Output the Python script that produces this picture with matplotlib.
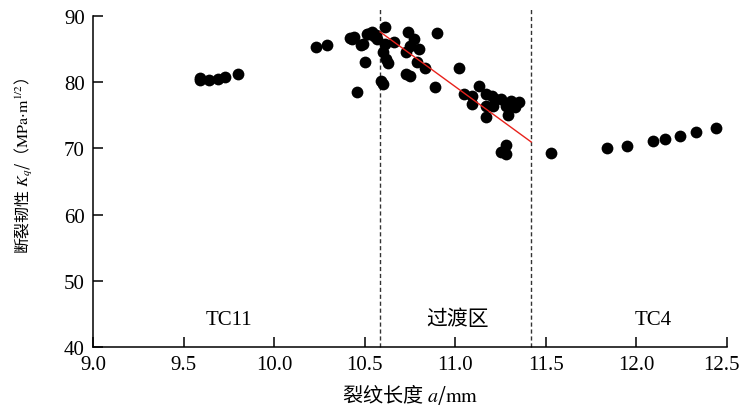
import matplotlib
matplotlib.use("Agg")
import matplotlib.pyplot as plt
from matplotlib.transforms import ScaledTranslation

plt.rcParams['font.family'] = ['Liberation Serif', 'Noto Sans CJK SC']
plt.rcParams['mathtext.fontset'] = 'stix'
plt.rcParams['axes.unicode_minus'] = False

# 裂纹长度 a/mm 与 断裂韧性 Kq
tc11_a = [9.59, 9.59, 9.64, 9.69, 9.73, 9.80]
tc11_k = [80.3, 80.7, 80.4, 80.5, 80.8, 81.3]

trans_a = [10.23, 10.29, 10.42, 10.43, 10.44, 10.48, 10.49, 10.50, 10.46,
           10.51, 10.52, 10.54, 10.55, 10.56, 10.57, 10.61, 10.59, 10.60,
           10.60, 10.62, 10.63, 10.66, 10.61, 10.74, 10.77, 10.75, 10.73,
           10.80, 10.79, 10.83, 10.73, 10.75, 10.90, 10.89, 11.02, 11.05,
           11.09, 11.13, 11.09, 11.17, 11.20, 11.22, 11.25, 11.17, 11.21,
           11.17, 11.28, 11.31, 11.35, 11.29, 11.33, 11.28, 11.25, 11.28]
trans_k = [85.3, 85.6, 86.7, 86.5, 86.8, 85.6, 85.8, 83.1, 78.5,
           87.3, 87.3, 87.6, 87.0, 87.2, 86.6, 88.3, 80.2, 79.8,
           84.6, 83.5, 82.9, 86.1, 85.8, 87.6, 86.5, 85.5, 84.6,
           85.0, 83.1, 82.1, 81.2, 80.9, 87.5, 79.3, 82.1, 78.2,
           77.9, 79.4, 76.7, 78.2, 77.9, 77.4, 77.4, 76.4, 76.4,
           74.8, 76.4, 77.1, 77.0, 75.1, 76.2, 70.5, 69.4, 69.2]

tc4_a = [11.53, 11.84, 11.95, 12.09, 12.16, 12.24, 12.33, 12.44]
tc4_k = [69.3, 70.1, 70.4, 71.1, 71.4, 71.9, 72.5, 73.1]

fit_a = [10.585, 11.419]
fit_k = [87.6, 70.97]

bounds = [10.585, 11.419]
zones = ['TC11', '过渡区', 'TC4']
zone_x = [9.75, 11.01, 12.09]

fig = plt.figure(figsize=(7.43, 4.10), dpi=100)
ax = fig.add_axes([0.1252, 0.1512, 0.8533, 0.8073])

ax.scatter(tc11_a + trans_a + tc4_a, tc11_k + trans_k + tc4_k,
           s=72, color='black', zorder=3, linewidths=0)
ax.plot(fit_a, fit_k, color='#e8221c', lw=1.0, zorder=4)

for b in bounds:
    ax.axvline(b, ymin=0, ymax=1.02, color='#333333', lw=1.0,
               linestyle=(0, (3, 2)), clip_on=False, zorder=2)

for name, x in zip(zones, zone_x):
    ax.text(x, 44.2, name, ha='center', va='center', fontsize=15)

ax.set_xlim(9.0, 12.5)
ax.set_ylim(40, 90)
ax.set_xticks([9.0, 9.5, 10.0, 10.5, 11.0, 11.5, 12.0, 12.5])
ax.set_xticklabels(['9.0', '9.5', '10.0', '10.5', '11.0', '11.5', '12.0', '12.5'])
ax.set_yticks([40, 50, 60, 70, 80, 90])

ax.spines['top'].set_visible(False)
ax.spines['right'].set_visible(False)
for s in ('left', 'bottom'):
    ax.spines[s].set_linewidth(1.1)
ax.tick_params(direction='in', length=7, width=1.1, labelsize=15, pad=6)

# last x label sits right at the figure edge
last = ax.get_xticklabels()[-1]
last.set_transform(last.get_transform() + ScaledTranslation(-6 / 100, 0, fig.dpi_scale_trans))

ax.set_xlabel('裂纹长度 $a$/$\\mathrm{mm}$', fontsize=14.5, labelpad=5,
              family='Noto Sans CJK SC')
ax.set_ylabel('断裂韧性 $K_q$/（$\\mathrm{MPa{\\cdot}m}^{1/2}$）', fontsize=11.5,
              family='Noto Sans CJK SC')
ax.yaxis.set_label_coords(-0.092, 0.55)

fig.savefig('out.png', dpi=100)
